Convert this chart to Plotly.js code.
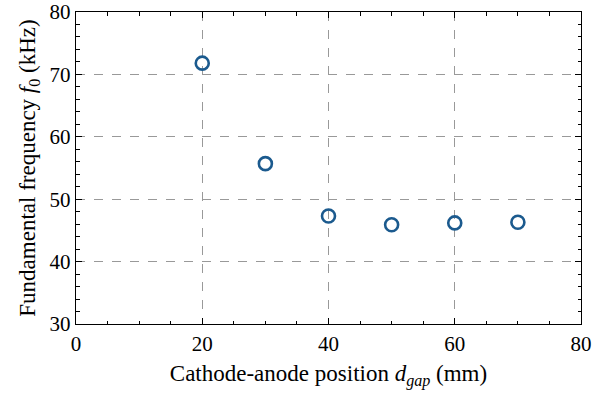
<!DOCTYPE html>
<html>
<head>
<meta charset="utf-8">
<script src="https://cdn.plot.ly/plotly-3.0.1.min.js"></script>
<style>html,body{margin:0;padding:0;background:#fff}#chart{width:592px;height:398px}</style>
</head>
<body>
<div id="chart"></div>
<script>
const gapPositions = [20, 30, 40, 50, 60, 70];
const fundamentalFreq = [71.8, 55.7, 47.3, 45.9, 46.2, 46.3];
const xTickVals = [0, 20, 40, 60, 80];
const yTickVals = [30, 40, 50, 60, 70, 80];

const tickFont = {family: 'Liberation Serif, Times New Roman, serif', size: 21, color: '#000'};
const titleFont = {family: 'Liberation Serif, Times New Roman, serif', size: 23, color: '#000'};

const trace = {
  x: gapPositions,
  y: fundamentalFreq,
  type: 'scatter',
  mode: 'markers',
  marker: {symbol: 'circle-open', size: 13, color: '#1b5a8e', line: {width: 2.6, color: '#1b5a8e'}},
  showlegend: false,
  cliponaxis: false
};

const axisCommon = {
  showline: true, linecolor: '#000', linewidth: 1.3, mirror: 'allticks',
  ticks: 'inside', ticklen: 6, tickwidth: 1, tickcolor: '#000',
  showgrid: true, gridcolor: '#999', griddash: 'dash', gridwidth: 1,
  zeroline: false, tickfont: tickFont, ticklabeloverflow: 'allow', automargin: false
};

const layout = {
  width: 592, height: 398,
  margin: {l: 76, r: 11, t: 12, b: 74},
  paper_bgcolor: '#fff', plot_bgcolor: '#fff',
  font: tickFont,
  xaxis: Object.assign({}, axisCommon, {
    range: [0, 80], tickvals: xTickVals,
    minor: {dtick: 5, ticks: 'inside', ticklen: 3.5, tickcolor: '#000', showgrid: false},
    title: {text: 'Cathode-anode position <i>d</i><sub><i>gap</i></sub> (mm)', font: titleFont, standoff: 10}
  }),
  yaxis: Object.assign({}, axisCommon, {
    range: [30, 80], tickvals: yTickVals,
    minor: {dtick: 2, ticks: 'inside', ticklen: 3.5, tickcolor: '#000', showgrid: false},
    title: {text: 'Fundamental frequency <i>f</i><sub>0</sub> (kHz)', font: titleFont, standoff: 7}
  })
};

Plotly.newPlot('chart', [trace], layout, {displayModeBar: false, staticPlot: true});
</script>
</body>
</html>
